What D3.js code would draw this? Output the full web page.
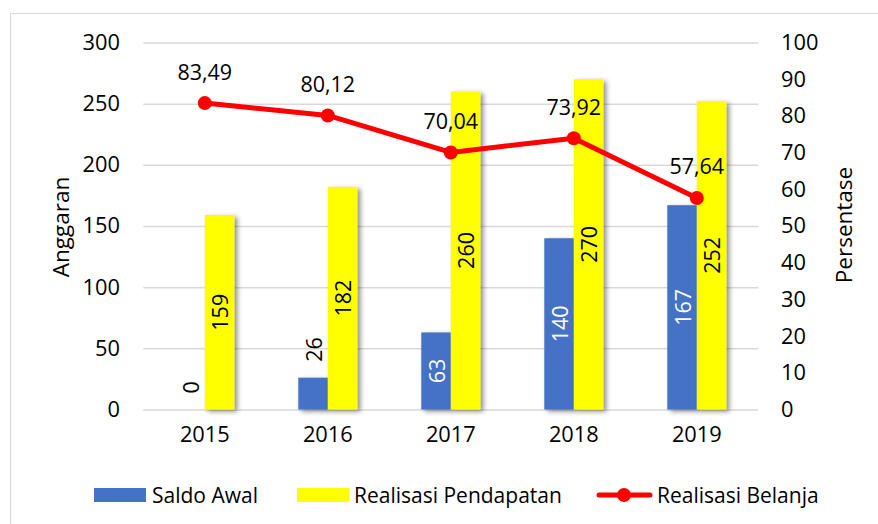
<!DOCTYPE html>
<html>
<head>
<meta charset="utf-8">
<script src="https://cdn.jsdelivr.net/npm/d3@7"></script>
<style>
  html, body { margin: 0; padding: 0; background: #fff; }
  svg { display: block; }
  text { font-family: "Open Sans", "Noto Sans", sans-serif; fill: #000; }
</style>
</head>
<body>
<svg id="chart" width="878" height="524"></svg>
<script>
// ---- data ----
const years = ["2015", "2016", "2017", "2018", "2019"];
const saldoAwal = [0, 26, 63, 140, 167];
const realisasiPendapatan = [159, 182, 260, 270, 252];
const realisasiBelanja = [83.49, 80.12, 70.04, 73.92, 57.64];
const leftTicks = [0, 50, 100, 150, 200, 250, 300];
const rightTicks = [0, 10, 20, 30, 40, 50, 60, 70, 80, 90, 100];
const seriesNames = ["Saldo Awal", "Realisasi Pendapatan", "Realisasi Belanja"];

// ---- layout ----
const W = 878, H = 524;
const plot = { left: 143.3, right: 758.3, top: 42.5, bottom: 409.5 };
const FS_TICK = 21.8, FS_TITLE = 22.5, FS_LEG = 21, FS_LAB = 21.5;
const colBlue = "#4472C4", colYellow = "#FFFF00", colRed = "#FF0000", colGrid = "#D9D9D9";

const svg = d3.select("#chart");

const defs = svg.append("defs");
const f = defs.append("filter").attr("id", "shadow")
  .attr("x", "-30%").attr("y", "-10%").attr("width", "180%").attr("height", "130%");
f.append("feDropShadow").attr("dx", 3).attr("dy", 2).attr("stdDeviation", 2.5)
  .attr("flood-color", "#000").attr("flood-opacity", 0.45);

// outer frame
svg.append("rect").attr("x", 10.5).attr("y", 13.5).attr("width", W).attr("height", H)
  .attr("fill", "#fff").attr("stroke", "#D9D9D9").attr("stroke-width", 1);

const x0 = d3.scaleBand().domain(years).range([plot.left, plot.right]).paddingInner(0).paddingOuter(0);
const groupW = 59;
const x1 = d3.scaleBand().domain(["saldo", "pend"]).range([0, groupW]);
const yL = d3.scaleLinear().domain([0, 300]).range([plot.bottom, plot.top]);
const yR = d3.scaleLinear().domain([0, 100]).range([plot.bottom, plot.top]);

// gridlines
const grid = svg.append("g")
  .attr("transform", `translate(${plot.left},0)`)
  .call(d3.axisLeft(yL).tickValues(leftTicks).tickSize(-(plot.right - plot.left)).tickFormat(""));
grid.select(".domain").remove();
grid.selectAll("line").attr("stroke", colGrid).attr("stroke-width", 1.5);

// left axis labels
const ax = svg.append("g")
  .attr("transform", `translate(120,0)`)
  .call(d3.axisLeft(yL).tickValues(leftTicks).tickSize(0).tickPadding(0));
ax.select(".domain").remove();
ax.selectAll("text").attr("font-size", FS_TICK).attr("font-family", null).attr("fill", "#000");

// right axis labels
const axR = svg.append("g")
  .attr("transform", `translate(781,0)`)
  .call(d3.axisRight(yR).tickValues(rightTicks).tickSize(0).tickPadding(0));
axR.select(".domain").remove();
axR.selectAll("text").attr("font-size", FS_TICK).attr("font-family", null).attr("fill", "#000");

// x axis labels
const axB = svg.append("g")
  .attr("transform", `translate(0,${plot.bottom + 17})`)
  .call(d3.axisBottom(x0).tickSize(0).tickPadding(0));
axB.select(".domain").remove();
axB.selectAll("text").attr("font-size", FS_TICK).attr("font-family", null).attr("fill", "#000").attr("dy", "0.71em");

// bars
const rows = years.map((y, i) => ({ year: y, saldo: saldoAwal[i], pend: realisasiPendapatan[i], bel: realisasiBelanja[i] }));
const gx = d => x0(d.year) + (x0.bandwidth() - groupW) / 2;

const bars = svg.append("g");
bars.selectAll("rect.saldo").data(rows.filter(d => d.saldo > 0)).join("rect")
  .attr("class", "saldo")
  .attr("x", d => gx(d) + x1("saldo")).attr("width", x1.bandwidth())
  .attr("y", d => yL(d.saldo)).attr("height", d => yL(0) - yL(d.saldo))
  .attr("fill", colBlue).attr("filter", "url(#shadow)");
bars.selectAll("rect.pend").data(rows).join("rect")
  .attr("class", "pend")
  .attr("x", d => gx(d) + x1("pend")).attr("width", x1.bandwidth())
  .attr("y", d => yL(d.pend)).attr("height", d => yL(0) - yL(d.pend))
  .attr("fill", colYellow).attr("filter", "url(#shadow)");

// bar labels
const lab = svg.append("g");
function barLabel(cx, v, color, inside) {
  const top = yL(v);
  let cy, anchor;
  if (inside) { cy = (top + yL(0)) / 2; anchor = "middle"; }
  else { cy = top - 16; anchor = "start"; }
  lab.append("text")
    .attr("transform", `translate(${cx},${cy}) rotate(-90)`)
    .attr("text-anchor", anchor).attr("dominant-baseline", "central")
    .attr("font-size", FS_LAB).style("fill", color)
    .text(String(v));
}
rows.forEach(d => {
  const cxS = gx(d) + x1("saldo") + x1.bandwidth() / 2;
  const cxP = gx(d) + x1("pend") + x1.bandwidth() / 2;
  const insideS = (yL(0) - yL(d.saldo)) > 45;
  barLabel(cxS, d.saldo, insideS ? "#fff" : "#000", insideS);
  barLabel(cxP, d.pend, "#000", true);
});

// line
const cx = d => x0(d.year) + x0.bandwidth() / 2;
svg.append("path").datum(rows)
  .attr("d", d3.line().x(cx).y(d => yR(d.bel)))
  .attr("fill", "none").attr("stroke", colRed).attr("stroke-width", 5)
  .attr("stroke-linejoin", "round").attr("stroke-linecap", "round");
svg.append("g").selectAll("circle").data(rows).join("circle")
  .attr("cx", cx).attr("cy", d => yR(d.bel)).attr("r", 7).attr("fill", colRed);
svg.append("g").selectAll("text").data(rows).join("text")
  .attr("x", cx).attr("y", d => yR(d.bel) - 32)
  .attr("text-anchor", "middle").attr("dominant-baseline", "central")
  .attr("font-size", FS_LAB)
  .text(d => d.bel.toFixed(2).replace(".", ","));

// axis titles
svg.append("text").attr("transform", "translate(60,227) rotate(-90)")
  .attr("text-anchor", "middle").attr("dominant-baseline", "central")
  .attr("font-size", FS_TITLE).text("Anggaran");
svg.append("text").attr("transform", "translate(843,225) rotate(-90)")
  .attr("text-anchor", "middle").attr("dominant-baseline", "central")
  .attr("font-size", FS_TITLE).text("Persentase");

// legend
const lg = svg.append("g");
const ly = 495;
lg.append("rect").attr("x", 94).attr("y", ly - 7).attr("width", 52).attr("height", 14).attr("fill", colBlue);
lg.append("text").attr("x", 152).attr("y", ly).attr("dominant-baseline", "central").attr("font-size", FS_LEG).text(seriesNames[0]);
lg.append("rect").attr("x", 297).attr("y", ly - 7).attr("width", 52).attr("height", 14).attr("fill", colYellow);
lg.append("text").attr("x", 354).attr("y", ly).attr("dominant-baseline", "central").attr("font-size", FS_LEG).text(seriesNames[1]);
lg.append("line").attr("x1", 599).attr("x2", 650).attr("y1", ly).attr("y2", ly)
  .attr("stroke", colRed).attr("stroke-width", 5).attr("stroke-linecap", "round");
lg.append("circle").attr("cx", 624).attr("cy", ly).attr("r", 7).attr("fill", colRed);
lg.append("text").attr("x", 657).attr("y", ly).attr("dominant-baseline", "central").attr("font-size", FS_LEG).text(seriesNames[2]);
</script>
</body>
</html>
